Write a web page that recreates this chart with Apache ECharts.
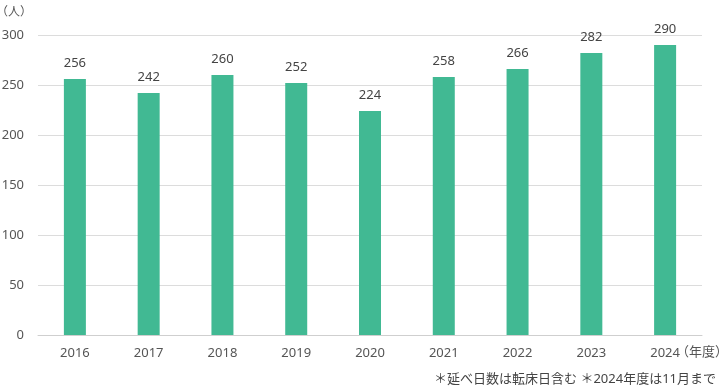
<!DOCTYPE html>
<html><head><meta charset="utf-8">
<script src="https://cdn.jsdelivr.net/npm/echarts@6/dist/echarts.min.js"></script>
<style>html,body{margin:0;padding:0;background:#fff}#c{width:720px;height:389px}</style>
</head><body><div id="c"></div>
<script>
const categories = ['2016','2017','2018','2019','2020','2021','2022','2023','2024'];
const values = [256,242,260,252,224,258,266,282,290];
const yTicks = [0,50,100,150,200,250,300];
const unitLabel = '（人）';
const yearUnit = '（年度）';
const footnote = '＊延べ日数は転床日含む ＊2024年度は11月まで';

const font = '"Noto Sans", "Noto Sans CJK JP", sans-serif';
const chart = echarts.init(document.getElementById('c'));
chart.setOption({
  animation: false,
  grid: {left: 38, right: 18, top: 35, bottom: 54, containLabel: false, outerBoundsMode: 'none'},
  xAxis: {
    type: 'category', data: categories,
    axisLine: {lineStyle: {color: '#cfcfcf'}},
    axisTick: {show: false},
    axisLabel: {color: '#555', fontSize: 13, fontFamily: font, margin: 12}
  },
  yAxis: {
    type: 'value', min: yTicks[0], max: yTicks[yTicks.length-1], interval: 50,
    name: unitLabel, nameLocation: 'end', nameGap: 16,
    nameTextStyle: {color: '#555', fontSize: 12, fontFamily: font, align: 'right', padding: [0, 6, 0, 0]},
    axisLine: {show: false}, axisTick: {show: false},
    splitLine: {lineStyle: {color: '#dcdcdc'}},
    axisLabel: {color: '#555', fontSize: 13, fontFamily: font, margin: 14}
  },
  series: [{
    type: 'bar', data: values, barWidth: 22,
    itemStyle: {color: '#41b993'},
    label: {show: true, position: 'top', distance: 9, color: '#444', fontSize: 13, fontFamily: font}
  }],
  graphic: [
    {type: 'text', left: 676, top: 346, style: {text: yearUnit, fill: '#555', font: '13px ' + font}},
    {type: 'text', right: 4, top: 373, style: {text: footnote, fill: '#444', font: '13px ' + font}}
  ]
});
</script></body></html>
